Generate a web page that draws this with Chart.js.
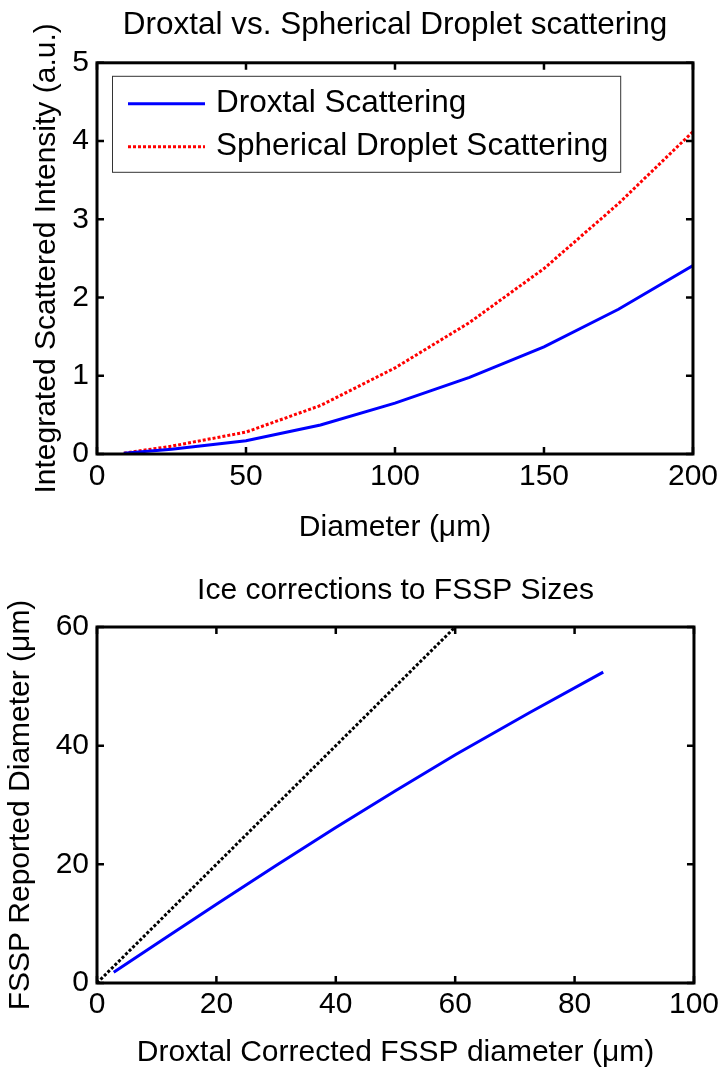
<!DOCTYPE html>
<html><head><meta charset="utf-8">
<script src="https://cdn.jsdelivr.net/npm/chart.js@4/dist/chart.umd.min.js"></script>
<style>
html,body{margin:0;padding:0;background:#fff;overflow:hidden;}
#wrap{position:relative;width:723px;height:1072px;background:#fff;}
#c1{position:absolute;left:0;top:0;}
#c2{position:absolute;left:0;top:560px;}
</style></head><body>
<div id="wrap">
<canvas id="c1" width="723" height="560"></canvas>
<canvas id="c2" width="723" height="512"></canvas>
</div>
<script>
// ---------- data: top panel ----------
const diameters = [9, 25, 50, 75, 100, 125, 150, 175, 200];
const droxtalScatter = [0.01, 0.06, 0.17, 0.37, 0.65, 0.98, 1.37, 1.85, 2.41];
const sphericalScatter = [0.01, 0.10, 0.28, 0.62, 1.10, 1.68, 2.37, 3.20, 4.12];
const topXTicks = [0, 50, 100, 150, 200];
const topYTicks = [0, 1, 2, 3, 4, 5];
// ---------- data: bottom panel ----------
const correctedDiam = [2.8, 11, 20.2, 30, 39.8, 50, 60.1, 72.5, 84.8];
const reportedDiam = [1.8, 7.3, 13.4, 19.8, 26.1, 32.4, 38.5, 45.6, 52.4];
const oneToOneX = [0, 60];
const oneToOneY = [0, 60];
const botXTicks = [0, 20, 40, 60, 80, 100];
const botYTicks = [0, 20, 40, 60];

const FONT = '"Liberation Sans", Arial, Helvetica, sans-serif';
const FS = 30;
Chart.defaults.font.family = FONT;
Chart.defaults.color = '#000';

const toXY = (xs, ys) => xs.map((x, i) => ({x, y: ys[i]}));

const framePlugin = {
  id: 'frame',
  afterDatasetsDraw(chart) {
    const {ctx, chartArea: {left, right, top, bottom}, scales: {x, y}} = chart;
    const L = 7;
    ctx.save();
    ctx.strokeStyle = '#000';
    ctx.lineWidth = 2.5;
    ctx.beginPath();
    x.ticks.forEach((t, i) => {
      const px = x.getPixelForTick(i);
      ctx.moveTo(px, bottom); ctx.lineTo(px, bottom - L);
      ctx.moveTo(px, top); ctx.lineTo(px, top + L);
    });
    y.ticks.forEach((t, i) => {
      const py = y.getPixelForTick(i);
      ctx.moveTo(left, py); ctx.lineTo(left + L, py);
      ctx.moveTo(right, py); ctx.lineTo(right - L, py);
    });
    ctx.stroke();
    ctx.lineWidth = 3;
    ctx.strokeRect(left, top, right - left, bottom - top);
    ctx.restore();
  }
};

const boxLegend = {
  id: 'boxLegend',
  afterDraw(chart, args, opts) {
    if (!opts || !opts.show) return;
    const {ctx, chartArea: {left, top}} = chart;
    const bx = left + 15, by = top + 13;
    const lineX0 = bx + 16, lineX1 = bx + 93, textX = bx + 104;
    ctx.save();
    ctx.font = `31.5px ${FONT}`;
    ctx.textBaseline = 'middle';
    let maxW = 0;
    chart.data.datasets.forEach(d => { maxW = Math.max(maxW, ctx.measureText(d.label).width); });
    const bw = textX - bx + maxW + 12, bh = 96;
    ctx.fillStyle = '#fff';
    ctx.fillRect(bx, by, bw, bh);
    ctx.strokeStyle = '#333';
    ctx.lineWidth = 1;
    ctx.strokeRect(bx + 0.5, by + 0.5, bw, bh);
    chart.data.datasets.forEach((d, i) => {
      const ly = by + 28 + i * 43;
      ctx.strokeStyle = d.borderColor;
      ctx.lineWidth = d.borderWidth;
      ctx.setLineDash(d.borderDash || []);
      ctx.beginPath(); ctx.moveTo(lineX0, ly); ctx.lineTo(lineX1, ly); ctx.stroke();
      ctx.setLineDash([]);
      ctx.fillStyle = '#000';
      ctx.fillText(d.label, textX, ly);
    });
    ctx.restore();
  }
};

function axisCfg(min, max, ticksArr, title, titlePad, fitSize, isX, tickPad) {
  return {
    type: 'linear', min, max,
    afterBuildTicks: s => { s.ticks = ticksArr.map(v => ({value: v})); },
    afterFit: s => { if (isX) s.height = fitSize; else s.width = fitSize; },
    grid: {display: false, drawTicks: false},
    border: {display: false},
    ticks: {font: {size: FS}, color: '#000', padding: tickPad, maxRotation: 0, autoSkip: false},
    title: {display: true, text: title, font: {size: FS}, color: '#000', padding: titlePad}
  };
}

new Chart(document.getElementById('c1'), {
  type: 'line',
  data: {
    datasets: [
      {label: 'Droxtal Scattering', data: toXY(diameters, droxtalScatter), borderColor: '#0000ff', borderWidth: 3, pointRadius: 0, fill: false, tension: 0},
      {label: 'Spherical Droplet Scattering', data: toXY(diameters, sphericalScatter), borderColor: '#ff0000', borderWidth: 3, borderDash: [3, 2], pointRadius: 0, fill: false, tension: 0}
    ]
  },
  options: {
    responsive: false, animation: false,
    layout: {padding: {left: 0, right: 28, top: 0, bottom: 0}},
    plugins: {
      legend: {display: false}, tooltip: {enabled: false},
      title: {display: true, fullSize: false, text: 'Droxtal vs. Spherical Droplet scattering', font: {size: 31.5, weight: 'normal'}, color: '#000', padding: {top: 6, bottom: 19}},
      boxLegend: {show: true}
    },
    scales: {
      x: axisCfg(0, 200, topXTicks, 'Diameter (\u03bcm)', {top: 0, bottom: 14}, 106, true, 5),
      y: axisCfg(0, 5, topYTicks, 'Integrated Scattered Intensity (a.u.)', {top: 29, bottom: 0}, 97, false, 8)
    }
  },
  plugins: [framePlugin, boxLegend]
});

new Chart(document.getElementById('c2'), {
  type: 'line',
  data: {
    datasets: [
      {label: 'Droxtal corrected', data: toXY(correctedDiam, reportedDiam), borderColor: '#0000ff', borderWidth: 3, pointRadius: 0, fill: false, tension: 0},
      {label: '1:1', data: toXY(oneToOneX, oneToOneY), borderColor: '#000000', borderWidth: 3, borderDash: [3, 2], pointRadius: 0, fill: false, tension: 0}
    ]
  },
  options: {
    responsive: false, animation: false,
    layout: {padding: {left: 0, right: 28, top: 0, bottom: 0}},
    plugins: {
      legend: {display: false}, tooltip: {enabled: false},
      title: {display: true, fullSize: false, text: 'Ice corrections to FSSP Sizes', font: {size: FS, weight: 'normal'}, color: '#000', padding: {top: 13, bottom: 18}}
    },
    scales: {
      x: axisCfg(0, 100, botXTicks, 'Droxtal Corrected FSSP diameter (\u03bcm)', {top: 0, bottom: 1}, 89, true, 4),
      y: axisCfg(0, 60, botYTicks, 'FSSP Reported Diameter (\u03bcm)', {top: 3, bottom: 0}, 97, false, 8)
    }
  },
  plugins: [framePlugin]
});
</script>
</body></html>
